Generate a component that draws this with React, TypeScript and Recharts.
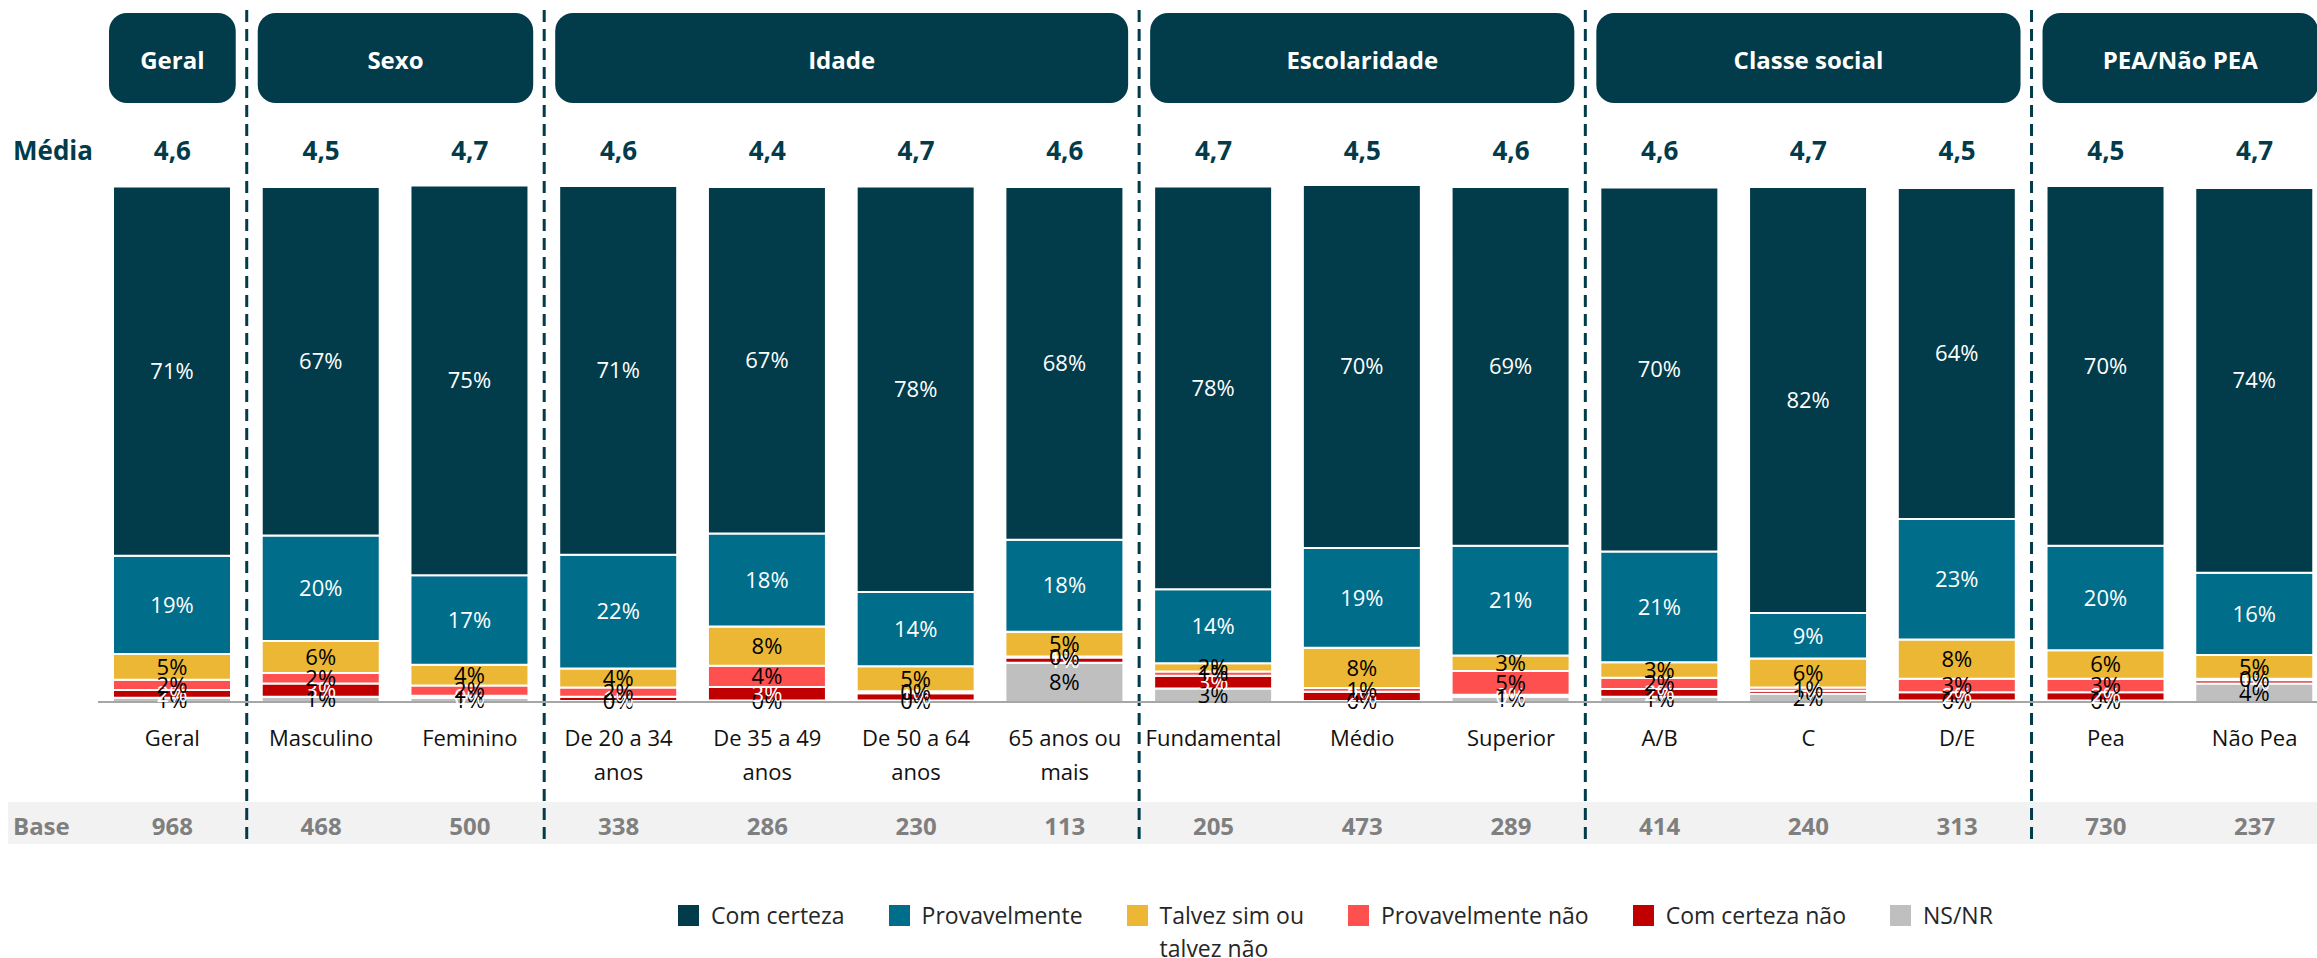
import React from 'react';
import { BarChart, Bar, XAxis, YAxis, LabelList, ReferenceLine, ReferenceArea } from 'recharts';

const categories = [
  'Geral', 'Masculino', 'Feminino', 'De 20 a 34\nanos', 'De 35 a 49\nanos', 'De 50 a 64\nanos',
  '65 anos ou\nmais', 'Fundamental', 'Médio', 'Superior', 'A/B', 'C', 'D/E', 'Pea', 'Não Pea',
];
const comCerteza = [71.4, 67.4, 75.4, 71.3, 67, 78.4, 68.2, 77.9, 70.2, 69.4, 70.4, 82.4, 64, 69.6, 74.4];
const provavelmente = [19, 20.4, 17.3, 22, 18, 14.4, 17.8, 14.3, 19.3, 21.2, 21.4, 8.8, 23.3, 20.2, 15.9];
const talvez = [5, 6.2, 4, 3.7, 7.6, 4.8, 4.8, 1.6, 7.8, 3, 3, 5.6, 7.6, 5.5, 4.6];
const provavelmenteNao = [2, 2, 2, 1.8, 4.1, 0.4, 0.2, 0.8, 0.7, 4.6, 2.2, 0.6, 2.6, 2.6, 0.3];
const comCertezaNao = [1.5, 2.6, 0.4, 0.8, 2.6, 1.4, 1, 2.5, 1.8, 0.4, 1.5, 0.6, 1.6, 1.6, 0.6];
const nsnr = [0.8, 1, 0.8, 0.2, 0.3, 0.3, 7.6, 2.6, 0.2, 1, 1, 1.6, 0.3, 0.3, 3.6];
const media = [4.6, 4.5, 4.7, 4.6, 4.4, 4.7, 4.6, 4.7, 4.5, 4.6, 4.6, 4.7, 4.5, 4.5, 4.7];
const base = [968, 468, 500, 338, 286, 230, 113, 205, 473, 289, 414, 240, 313, 730, 237];

const groupLabels = ['Geral', 'Sexo', 'Idade', 'Escolaridade', 'Classe social', 'PEA/Não PEA'];
const groupFirst = [0, 1, 3, 7, 10, 13];
const groupLast = [0, 2, 6, 9, 12, 14];

const DARK = '#023B4A';
const FONT = '"Open Sans", "Noto Sans", sans-serif';

// bottom-to-top stack order
const series = [
  { key: 'nsnr', name: 'NS/NR', color: '#BFBFBF', text: '#000000' },
  { key: 'cn', name: 'Com certeza não', color: '#C00000', text: '#FFFFFF' },
  { key: 'pn', name: 'Provavelmente não', color: '#FF5050', text: '#000000' },
  { key: 'tz', name: 'Talvez sim ou\ntalvez não', color: '#EBB734', text: '#000000' },
  { key: 'pv', name: 'Provavelmente', color: '#006D8A', text: '#FFFFFF' },
  { key: 'cc', name: 'Com certeza', color: DARK, text: '#FFFFFF' },
];

const data = categories.map((name, i) => ({
  name,
  cc: comCerteza[i],
  pv: provavelmente[i],
  tz: talvez[i],
  pn: provavelmenteNao[i],
  cn: comCertezaNao[i],
  nsnr: nsnr[i],
  media: media[i],
  base: base[i],
}));

const pct = (v: any) => `${Math.round(Number(v))}%`;

const CatTick = (props: any) => {
  const { x, y, payload } = props;
  const lines = String(payload.value).split('\n');
  return (
    <g>
      {lines.map((l, k) => (
        <text key={k} x={x} y={y + 35 + k * 34} textAnchor="middle" dominantBaseline="central"
          fontSize={22} fill="#111111">{l}</text>
      ))}
    </g>
  );
};

const BaseTick = (props: any) => {
  const { x, y, index } = props;
  return (
    <text x={x} y={y + 23} textAnchor="middle" dominantBaseline="central" fontSize={24}
      fontWeight={700} fill="#7F7F7F">{base[index]}</text>
  );
};

const MediaTick = (props: any) => {
  const { x, y, index } = props;
  return (
    <text x={x} y={y - 35} textAnchor="middle" dominantBaseline="central" fontSize={26}
      fontWeight={700} fill={DARK}>{media[index].toFixed(1).replace('.', ',')}</text>
  );
};

const headerShape = (label: string) => (p: any) => {
  const inset = 11;
  return (
    <g>
      <rect x={p.x + inset} y={13} width={p.width - 2 * inset} height={90} rx={18} ry={18} fill={DARK} />
      <text x={p.x + p.width / 2} y={59} textAnchor="middle" dominantBaseline="central" fill="#FFFFFF"
        fontSize={24} fontWeight={700}>{label}</text>
    </g>
  );
};

const dashShape = (p: any) => (
  <line x1={p.x1} x2={p.x1} y1={10} y2={840} stroke={DARK} strokeWidth={3} strokeDasharray="12 7" />
);

const legendOrder = [...series].reverse();

export default function App() {
  return (
    <div style={{ position: 'absolute', left: 0, top: 0, width: 2317, height: 958, overflow: 'hidden', background: '#FFFFFF', fontFamily: FONT }}>
      <div style={{ position: 'absolute', left: 8, top: 802, width: 2309, height: 42, background: '#F2F2F2' }} />
      <div style={{ position: 'absolute', left: 13, top: 150, transform: 'translateY(-50%)', fontSize: 26, fontWeight: 700, color: DARK }}>Média</div>
      <div style={{ position: 'absolute', left: 13, top: 825, transform: 'translateY(-50%)', fontSize: 24, fontWeight: 700, color: '#7F7F7F' }}>Base</div>
      <div style={{ position: 'absolute', left: 0, top: 0 }}>
        <BarChart width={2340} height={958} data={data} margin={{ top: 115, right: 11, bottom: 114, left: 98 }}>
          <XAxis xAxisId="a_cat" dataKey="name" height={100} interval={0} tickLine={false} tickSize={0} tickMargin={0}
            axisLine={{ stroke: '#A6A6A6', strokeWidth: 2 }} tick={<CatTick />} />
          <XAxis xAxisId="b_base" dataKey="name" height={42} interval={0} tickLine={false} tickSize={0} tickMargin={0}
            axisLine={false} tick={<BaseTick />} />
          <XAxis xAxisId="c_media" dataKey="name" orientation="top" height={70} interval={0} tickLine={false} tickSize={0}
            tickMargin={0} axisLine={false} tick={<MediaTick />} />
          <YAxis hide domain={[0, 100]} allowDataOverflow />
          {groupLabels.map((g, i) => (
            <ReferenceArea key={g} xAxisId="a_cat" x1={categories[groupFirst[i]]} x2={categories[groupLast[i]]}
              y1={0} y2={100} ifOverflow="visible" shape={headerShape(g)} />
          ))}
          {groupFirst.slice(1).map((f) => (
            <ReferenceLine key={f} xAxisId="a_cat" x={categories[f]} position="start" ifOverflow="visible" shape={dashShape} />
          ))}
          {series.map((s) => (
            <Bar key={s.key} xAxisId="a_cat" dataKey={s.key} name={s.name} stackId="a" fill={s.color} stroke="#FFFFFF"
              strokeWidth={2} barSize={118} isAnimationActive={false}>
              <LabelList dataKey={s.key} position="center" fill={s.text} fontSize={22} formatter={pct} />
            </Bar>
          ))}
        </BarChart>
      </div>
      <div style={{ position: 'absolute', left: 678, top: 899, display: 'flex', gap: 44, fontSize: 23, color: '#262626' }}>
        {legendOrder.map((s) => (
          <div key={s.key} style={{ display: 'flex', alignItems: 'flex-start' }}>
            <div style={{ width: 21, height: 21, background: s.color, marginTop: 6, marginRight: 12 }} />
            <div style={{ lineHeight: '33px', whiteSpace: 'pre' }}>{s.name}</div>
          </div>
        ))}
      </div>
    </div>
  );
}
